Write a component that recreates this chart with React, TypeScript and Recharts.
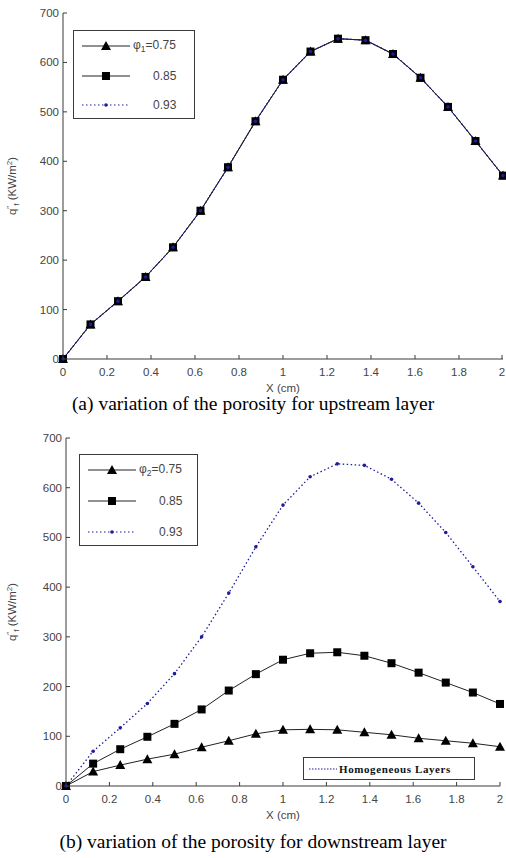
// modules
import { LineChart, Line, XAxis, YAxis, Label } from "recharts";


const xPositions = [0, 0.125, 0.25, 0.375, 0.5, 0.625, 0.75, 0.875, 1, 1.125, 1.25, 1.375, 1.5, 1.625, 1.75, 1.875, 2];

// (a) upstream layer: the three curves coincide
const upstream75 = [0, 70, 117, 166, 226, 300, 388, 481, 565, 622, 648, 645, 617, 569, 510, 441, 371];
const upstream85 = [0, 70, 117, 166, 226, 300, 388, 481, 565, 622, 648, 645, 617, 569, 510, 441, 371];
const upstream93 = [0, 70, 117, 166, 226, 300, 388, 481, 565, 622, 648, 645, 617, 569, 510, 441, 371];

// (b) downstream layer
const downstream75 = [0, 29, 42, 54, 64, 78, 91, 105, 113, 114, 113, 108, 103, 96, 91, 86, 79];
const downstream85 = [0, 45, 74, 99, 125, 154, 192, 225, 254, 267, 269, 262, 247, 228, 208, 188, 165];
const downstream93 = [0, 70, 117, 166, 226, 300, 388, 481, 565, 622, 648, 645, 617, 569, 510, 441, 371];

const xTicks = [0, 0.2, 0.4, 0.6, 0.8, 1, 1.2, 1.4, 1.6, 1.8, 2];
const yTicks = [0, 100, 200, 300, 400, 500, 600, 700];

const legendValues = ["0.75", "0.85", "0.93"];


const FRAME = "#3a3a3a";
const TICK_TEXT = "#444";
const DOT_BLUE = "#1c1c9c";
const TICK_FONT = "'Liberation Sans', Arial, sans-serif";
const MARGIN_X = 9;
const MARGIN_Y = 4;

const tickStyle = { fontFamily: TICK_FONT, fontSize: 11.5, fill: TICK_TEXT };


const BottomTick = ({ x, y, payload }: any) => (
  <g>
    <line x1={x} x2={x} y1={y - MARGIN_X} y2={y - MARGIN_X - 4} stroke={FRAME} />
    <text x={x} y={y} dy="0.71em" textAnchor="middle" style={tickStyle}>{String(payload.value)}</text>
  </g>
);

const LeftTick = ({ x, y, payload }: any) => (
  <g>
    <line x1={x + MARGIN_Y} x2={x + MARGIN_Y + 4} y1={y} y2={y} stroke={FRAME} />
    <text x={x} y={y} dy="0.35em" textAnchor="end" style={tickStyle}>{String(payload.value)}</text>
  </g>
);

const TopTick = ({ x, y }: any) => <line x1={x} x2={x} y1={y} y2={y + 4} stroke={FRAME} />;

const RightTick = ({ x, y }: any) => <line x1={x} x2={x - 4} y1={y} y2={y} stroke={FRAME} />;


const Triangle = ({ cx, cy }: any) => {
  if (cx == null || cy == null) return null;
  return <polygon points={`${cx},${cy - 5} ${cx - 5},${cy + 4} ${cx + 5},${cy + 4}`} fill="#000" />;
};

const Square = ({ cx, cy }: any) => {
  if (cx == null || cy == null) return null;
  return <rect x={cx - 4} y={cy - 4} width={8} height={8} fill="#000" />;
};

const SmallDot = ({ cx, cy }: any) => {
  if (cx == null || cy == null) return null;
  return <circle cx={cx} cy={cy} r={1.8} fill={DOT_BLUE} />;
};


type PanelProps = {
  top: number;
  yAxisWidth: number;
  rightMargin: number;
  topMargin: number;
  height: number;
  s75: number[];
  s85: number[];
  s93: number[];
};

function Panel({ top, yAxisWidth, rightMargin, topMargin, height, s75, s85, s93 }: PanelProps) {
  const data = xPositions.map((x, i) => ({ x, a: s75[i], b: s85[i], c: s93[i] }));

  return (
    <div style={{ position: "absolute", left: 0, top }}>
      <LineChart width={506} height={height} data={data} margin={{ top: topMargin, right: rightMargin, left: 0, bottom: 0 }}>
        <XAxis
          dataKey="x"
          type="number"
          domain={[0, 2]}
          ticks={xTicks}
          height={36}
          stroke={FRAME}
          tickSize={0}
          tickMargin={MARGIN_X}
          tick={<BottomTick />}
        >
          <Label
            content={({ viewBox }: any) => (
              <text x={viewBox.x + viewBox.width / 2} y={viewBox.y + 33} textAnchor="middle" style={{ ...tickStyle, fontSize: 11.5 }}>
                X (cm)
              </text>
            )}
          />
        </XAxis>
        <XAxis
          xAxisId="top"
          orientation="top"
          dataKey="x"
          type="number"
          domain={[0, 2]}
          ticks={xTicks}
          height={0}
          stroke={FRAME}
          tickSize={0}
          tickMargin={0}
          tick={<TopTick />}
        />
        <YAxis
          type="number"
          domain={[0, 700]}
          ticks={yTicks}
          width={yAxisWidth}
          stroke={FRAME}
          tickSize={0}
          tickMargin={MARGIN_Y}
          tick={<LeftTick />}
        >
          <Label
            content={({ viewBox }: any) => {
              const cx = 16;
              const cy = viewBox.y + viewBox.height / 2;
              return (
                <text transform={`translate(${cx},${cy}) rotate(-90)`} textAnchor="middle" style={{ ...tickStyle, fontSize: 11.5 }}>
                  q<tspan dy={-4} fontSize={8}>″</tspan><tspan dy={7} fontSize={8}>f</tspan><tspan dy={-3}> (KW/m</tspan><tspan dy={-4} fontSize={8}>2</tspan><tspan dy={4}>)</tspan>
                </text>
              );
            }}
          />
        </YAxis>
        <YAxis
          yAxisId="right"
          orientation="right"
          type="number"
          domain={[0, 700]}
          ticks={yTicks}
          width={0}
          stroke={FRAME}
          tickSize={0}
          tickMargin={0}
          tick={<RightTick />}
        />
        <Line dataKey="a" stroke="#222" strokeWidth={1} dot={<Triangle />} activeDot={false} isAnimationActive={false} />
        <Line dataKey="b" stroke="#222" strokeWidth={1} dot={<Square />} activeDot={false} isAnimationActive={false} />
        <Line dataKey="c" stroke={DOT_BLUE} strokeWidth={1.3} strokeDasharray="1.5 2.5" dot={<SmallDot />} activeDot={false} isAnimationActive={false} />
      </LineChart>
    </div>
  );
}


type LegendProps = {
  left: number;
  top: number;
  width: number;
  height: number;
  sub: string;
};

function SeriesLegend({ left, top, width, height, sub }: LegendProps) {
  const rowGap = (height - 30) / 2;
  const markers = [
    <polygon key="t" points="24,1 19,10 29,10" fill="#000" />,
    <rect key="s" x={20} y={2} width={8} height={8} fill="#000" />,
    <circle key="c" cx={24} cy={6} r={1.8} fill={DOT_BLUE} />,
  ];

  return (
    <div style={{ position: "absolute", left, top, width, height, border: `1.5px solid ${FRAME}`, background: "#fff", boxSizing: "border-box" }}>
      {legendValues.map((v, i) => (
        <div key={v} style={{ position: "absolute", left: 8, top: 9 + i * rowGap, height: 12, display: "flex", alignItems: "center" }}>
          <svg width={50} height={12}>
            <line x1={0} x2={48} y1={6} y2={6} stroke={i < 2 ? "#222" : DOT_BLUE} strokeDasharray={i < 2 ? undefined : "1.5 2.5"} />
            {markers[i]}
          </svg>
          <span style={{ fontFamily: TICK_FONT, fontSize: 12, color: TICK_TEXT, marginLeft: i === 0 ? 1 : 21, whiteSpace: "nowrap" }}>
            {i === 0 ? <>φ<sub style={{ fontSize: 8.5 }}>{sub}</sub>={v}</> : v}
          </span>
        </div>
      ))}
    </div>
  );
}


const captionStyle = {
  position: "absolute" as const,
  left: 0,
  width: 506,
  textAlign: "center" as const,
  fontFamily: "'Liberation Serif', 'Times New Roman', serif",
  fontSize: 19.5,
  color: "#000",
  whiteSpace: "nowrap" as const,
};


export default function App() {
  return (
    <div style={{ position: "absolute", left: 0, top: 0, width: 506, height: 858, background: "#fff", overflow: "hidden" }}>
      <Panel top={0} yAxisWidth={63} rightMargin={3} topMargin={13} height={395} s75={upstream75} s85={upstream85} s93={upstream93} />
      <SeriesLegend left={73} top={30} width={122} height={89} sub="1" />
      <div style={{ ...captionStyle, top: 393 }}>(a) variation of the porosity for upstream layer</div>

      <Panel top={420} yAxisWidth={66} rightMargin={6} topMargin={18} height={402} s75={downstream75} s85={downstream85} s93={downstream93} />
      <SeriesLegend left={79} top={454} width={119} height={92} sub="2" />
      <div style={{ position: "absolute", left: 303, top: 757, width: 172, height: 23, border: `1.5px solid ${FRAME}`, background: "#fff", boxSizing: "border-box", display: "flex", alignItems: "center" }}>
        <svg width={30} height={8} style={{ marginLeft: 5 }}>
          <line x1={0} x2={28} y1={4} y2={4} stroke={DOT_BLUE} strokeDasharray="1.5 1.5" />
        </svg>
        <span style={{ fontFamily: "'Liberation Serif', serif", fontWeight: "bold", fontSize: 11, letterSpacing: 0.6, color: "#111", whiteSpace: "nowrap" }}>
          Homogeneous Layers
        </span>
      </div>
      <div style={{ ...captionStyle, top: 831 }}>(b) variation of the porosity for downstream layer</div>
    </div>
  );
}
